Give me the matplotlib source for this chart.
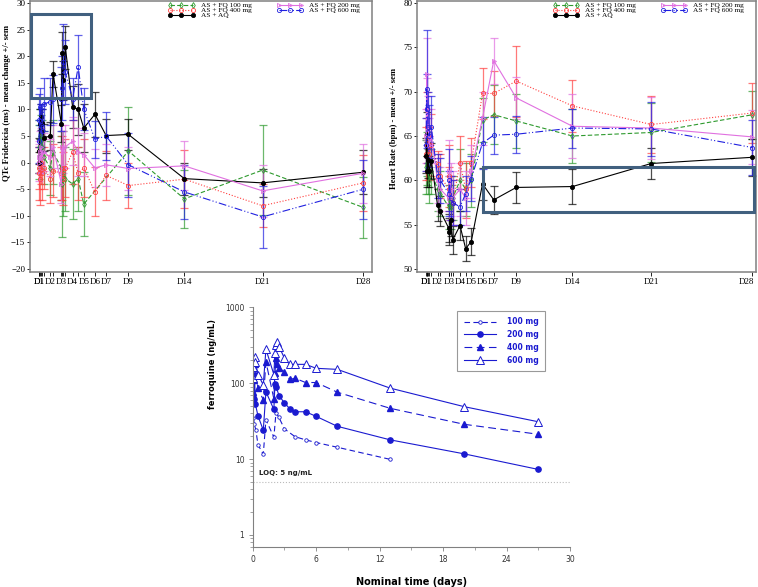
import numpy as np
import matplotlib
matplotlib.use("Agg")
import matplotlib.pyplot as plt
import matplotlib.transforms as mtransforms
from matplotlib.patches import Rectangle
from matplotlib.ticker import FixedLocator, NullFormatter

# ---- top panels: time points (days) and tick labels ----
t_days = [1.0, 1.03, 1.08, 1.17, 1.25, 1.45, 2.0, 2.25, 3.0, 3.06, 3.17, 3.35,
          4.0, 4.5, 5.0, 6.0, 7.0, 9.0, 14.0, 21.0, 30.0]
t_labels = ['D1', 'D1', '', '', '', '', 'D2', '', 'D3', '', '', '',
            'D4', '', 'D5', 'D6', 'D7', 'D9', 'D14', 'D21', 'D28']

nan = np.nan
# QTc Fridericia change (ms)
qtc_100 = [2.0, 3.0, 5.0, 4.0, 3.0, 1.0, -1.0, 2.0, -1.0, -4.0, -2.0, -3.0, -4.0, -3.0, -7.8, nan, nan, 2.2, -6.8, -1.4, -8.4]
qtc_100_sem = [5, 5, 5, 5, 5, 5, 5, 6, 6, 10, 8, 6, 6.5, 6, 6, nan, nan, 8.2, 5.4, 8.4, 5.8]
qtc_200 = [1.0, 0.0, 2.0, 3.0, 1.0, 2.0, 1.0, 3.0, -4.0, 3.0, 2.0, 3.0, 4.0, 2.0, 1.5, -1.0, -0.4, -1.1, -0.6, -5.3, -2.0]
qtc_200_sem = [3, 3.5, 4, 3.5, 3, 3.5, 3.5, 4, 3.5, 4, 4, 4, 4.5, 4.5, 4, 3.5, 4, 4, 4.6, 4.9, 5.6]
qtc_400 = [-1.0, -2.0, -3.0, 0.0, -2.0, -1.0, -3.0, -1.5, -2.0, -1.0, -3.0, -1.0, 2.0, -2.0, -1.0, -5.5, -2.4, -4.3, -3.1, -8.1, -3.8]
qtc_400_sem = [4, 5, 5, 4, 5, 4, 4.5, 5, 5, 6, 5, 5.5, 6, 5, 5.5, 4.6, 4.6, 4.3, 5.5, 4.0, 5.2]
qtc_600 = [4.0, 8.0, 10.5, 7.0, 6.0, 11.0, 11.5, 12.0, 12.0, 14.0, 19.0, 17.0, 12.0, 18.0, 10.1, 4.4, 5.0, -0.4, -5.5, -10.2, -5.0]
qtc_600_sem = [4, 5, 3.5, 4, 4, 5, 4.5, 4.5, 6, 6, 7, 6, 4, 6, 4, 3.5, 4.5, 6, 5, 5.8, 5.5]
qtc_aq = [0.0, 2.2, 7.3, 8.6, 7.5, 4.7, 5.0, 16.7, 7.3, 20.6, 15.5, 21.7, 10.5, 10.0, 6.5, 9.1, 5.1, 5.3, -3.0, -3.8, -1.8]
qtc_aq_sem = [2.0, 2.5, 2.8, 2.5, 2.5, 2.5, 2.7, 2.5, 3.5, 4.0, 3.7, 4.0, 4.0, 4.8, 4.5, 4.2, 3.2, 3.0, 3.0, 2.7, 4.1]

# heart rate (bpm)
hr_100 = [61.5, 63.0, 62.0, 61.0, 60.0, 61.0, 59.0, 58.5, 57.0, 58.0, 57.0, 58.0, 60.0, 59.0, 60.0, 66.8, 67.4, 66.7, 65.0, 65.4, 67.4]
hr_100_sem = [3.0, 2.5, 2.5, 2.5, 2.5, 2.5, 2.5, 2.5, 2.5, 2.5, 2.5, 2.5, 3.5, 3, 3, 2.5, 3.3, 3.0, 3.0, 3.3, 2.7]
hr_200 = [65.0, 72.0, 68.0, 66.0, 64.0, 65.0, 60.0, 59.0, 58.0, 61.0, 59.0, 58.0, 59.0, 58.0, 61.0, 67.0, 73.5, 69.3, 66.1, 65.9, 64.9]
hr_200_sem = [3, 4, 3.5, 3.5, 3, 3, 2.5, 2.5, 2.5, 3.5, 3, 3, 3, 3, 3, 3, 2.6, 2.4, 3.6, 3.5, 3.0]
hr_400 = [63.0, 66.0, 64.0, 65.0, 63.0, 64.0, 61.8, 60.5, 59.0, 60.5, 58.0, 57.5, 62.0, 59.0, 62.0, 69.8, 69.8, 71.2, 68.4, 66.3, 67.6]
hr_400_sem = [3, 4, 3, 3, 3, 3.5, 1.5, 2.5, 2.5, 3.5, 2.5, 2.5, 3, 3.2, 2.8, 2.9, 2.5, 4.0, 2.9, 3.2, 3.4]
hr_600 = [64.0, 70.3, 68.0, 66.0, 65.0, 66.0, 60.5, 60.0, 58.5, 60.0, 58.0, 57.5, 57.0, 58.5, 60.2, 64.2, 65.1, 65.2, 65.9, 65.8, 63.7]
hr_600_sem = [3, 6.7, 4, 4, 3.5, 3.5, 2.5, 2.5, 2.5, 3.5, 2.5, 2.5, 2.0, 2.0, 2.5, 2.9, 2.1, 2.1, 2.2, 3.0, 3.1]
hr_aq = [62.8, 65.2, 61.0, 62.3, 61.0, 62.2, 57.2, 56.5, 54.6, 54.2, 55.5, 53.3, 54.9, 52.3, 53.1, 59.6, 57.8, 59.2, 59.3, 61.9, 62.6]
hr_aq_sem = [2.0, 2.5, 1.8, 2.0, 1.8, 2.0, 1.8, 1.7, 1.6, 1.5, 1.8, 1.6, 1.6, 1.4, 1.5, 1.8, 1.6, 1.7, 1.95, 1.8, 2.1]

# ---- bottom panel: ferroquine concentrations ----
pk_100_t = [0.06, 0.15, 0.3, 0.5, 1.0, 1.25, 2.0, 2.2, 2.45, 3.0, 4.0, 5.0, 6.0, 8.0, 13.0]
pk_100_c = [35, 29, 24, 15.4, 11.6, 33, 19.4, 41, 36, 25, 19.7, 17.9, 16.5, 14.3, 9.9]
pk_200_t = [0.0, 0.05, 0.1, 0.17, 0.25, 0.5, 1.0, 1.25, 2.0, 2.1, 2.2, 2.5, 3.0, 3.5, 4.0, 5.0, 6.0, 8.0, 13.0, 20.0, 27.0]
pk_200_c = [57, 66, 62, 130, 53, 37, 24, 77, 45, 97, 90, 68, 55, 46, 42, 42, 36.5, 27, 17.9, 11.7, 7.3]
pk_400_t = [0.0, 0.08, 0.17, 0.5, 1.0, 1.25, 2.0, 2.1, 2.2, 2.25, 2.5, 3.0, 3.5, 4.0, 5.0, 6.0, 8.0, 13.0, 20.0, 27.0]
pk_400_c = [77, 110, 180, 86, 60, 192, 62, 135, 215, 180, 160, 140, 112, 116, 102, 102, 76, 46.6, 28.7, 21.2]
pk_600_t = [0.0, 0.05, 0.17, 0.25, 0.5, 1.0, 1.25, 2.0, 2.1, 2.2, 2.3, 2.5, 3.0, 3.5, 4.0, 5.0, 6.0, 8.0, 13.0, 20.0, 27.0]
pk_600_c = [116, 165, 224, 190, 130, 95, 280, 130, 248, 318, 352, 302, 213, 177, 177, 177, 157, 152, 86, 49, 31]
loq = 5

groups = ['AS + FQ 100 mg', 'AS + FQ 400 mg', 'AS + AQ', 'AS + FQ 200 mg', 'AS + FQ 600 mg']
styles = {
    'AS + FQ 100 mg': dict(color='#2e9a2e', ls=(0, (4, 2)), marker='d', mfc='none'),
    'AS + FQ 400 mg': dict(color='#ff4040', ls=':', marker='o', mfc='none'),
    'AS + AQ': dict(color='black', ls='-', marker='o', mfc='black'),
    'AS + FQ 200 mg': dict(color='#e070e0', ls='-', marker='>', mfc='none'),
    'AS + FQ 600 mg': dict(color='#2020e0', ls=(0, (7, 2, 1, 2, 1, 2)), marker='o', mfc='none'),
}
box_color = '#41607f'

plt.rcParams['font.family'] = ['Liberation Serif', 'DejaVu Serif']
fig = plt.figure(figsize=(7.58, 5.87), dpi=100)

ax1 = fig.add_axes([0.0396, 0.5366, 0.4512, 0.4617])
ax2 = fig.add_axes([0.5505, 0.5366, 0.4473, 0.4617])

t = np.array(t_days)


def draw_panel(ax, data, xlim):
    for g in groups:
        y, e = data[g]
        y = np.array(y, dtype=float)
        e = np.array(e, dtype=float)
        m = np.isfinite(y)
        st = styles[g]
        ax.errorbar(t[m], y[m], yerr=e[m], fmt='none', ecolor=st['color'],
                    elinewidth=0.9, capsize=2.6, capthick=0.9, alpha=0.7, zorder=2)
        ax.plot(t[m], y[m], color=st['color'], ls=st['ls'], lw=0.8,
                marker=st['marker'], ms=3, mfc=st['mfc'], mec=st['color'],
                mew=0.6, label=g, zorder=3)
    ax.set_xlim(*xlim)
    ax.set_xticks(t_days)
    ax.set_xticklabels(t_labels, fontsize=6.5)
    ax.tick_params(axis='x', length=3, width=0.6, pad=1.5)
    ax.tick_params(axis='y', length=2, width=0.6, labelsize=6.5, pad=1.5)
    for s in ax.spines.values():
        s.set_color('#808080')
        s.set_linewidth(1.1)
    ax.legend(loc='upper right', ncol=2, frameon=False, fontsize=5.3,
              numpoints=3, handlelength=3.6, labelspacing=-0.15,
              columnspacing=3.4, handletextpad=0.8, borderaxespad=0.1,
              bbox_to_anchor=(0.975, 1.01))


draw_panel(ax1, {
    'AS + FQ 100 mg': (qtc_100, qtc_100_sem),
    'AS + FQ 400 mg': (qtc_400, qtc_400_sem),
    'AS + AQ': (qtc_aq, qtc_aq_sem),
    'AS + FQ 200 mg': (qtc_200, qtc_200_sem),
    'AS + FQ 600 mg': (qtc_600, qtc_600_sem),
}, (0.19, 30.8))
ax1.set_ylim(-20.56, 30.4)
ax1.set_yticks(np.arange(-20, 31, 5))
ax1.set_ylabel('QTc Fridericia (ms) - mean change +/- sem', fontsize=6.2, fontweight='bold')
ax1.yaxis.set_label_coords(-0.057, 0.625)
ax1.add_patch(Rectangle((0.31, 12.1), 5.38, 15.8, fill=False, ec=box_color, lw=2.2, zorder=5))

draw_panel(ax2, {
    'AS + FQ 100 mg': (hr_100, hr_100_sem),
    'AS + FQ 400 mg': (hr_400, hr_400_sem),
    'AS + AQ': (hr_aq, hr_aq_sem),
    'AS + FQ 200 mg': (hr_200, hr_200_sem),
    'AS + FQ 600 mg': (hr_600, hr_600_sem),
}, (0.2, 30.35))
ax2.set_ylim(49.66, 80.23)
ax2.set_yticks(np.arange(50, 81, 5))
ax2.set_ylabel('Heart Rate (bpm) - mean +/- sem', fontsize=6.2, fontweight='bold')
ax2.yaxis.set_label_coords(-0.057, 0.53)
ax2.add_patch(Rectangle((6.05, 56.47), 24.1, 5.08, fill=False, ec=box_color, lw=2.2, zorder=5))
# nudge the last tick label so it stays inside the figure
last = ax2.get_xticklabels()[-1]
last.set_transform(last.get_transform() +
                   mtransforms.ScaledTranslation(-4 / 72, 0, fig.dpi_scale_trans))

# ---- bottom PK panel ----
blue = '#1a1ad0'
ax3 = fig.add_axes([0.3334, 0.0687, 0.4186, 0.4078])
sans = ['DejaVu Sans']
ax3.plot(pk_100_t, pk_100_c, color=blue, lw=0.8, ls=(0, (5, 3)), marker='o', ms=2.5,
         mfc='white', mec=blue, mew=0.6, label='100 mg')
ax3.plot(pk_200_t, pk_200_c, color=blue, lw=0.8, ls='-', marker='o', ms=3.8,
         mfc=blue, mec=blue, label='200 mg')
ax3.plot(pk_400_t, pk_400_c, color=blue, lw=0.8, ls=(0, (7, 4)), marker='^', ms=3.8,
         mfc=blue, mec=blue, label='400 mg')
ax3.plot(pk_600_t, pk_600_c, color=blue, lw=0.8, ls='-', marker='^', ms=6,
         mfc='white', mec=blue, mew=0.7, label='600 mg')
ax3.axhline(loq, color='#bbbbbb', lw=0.8, ls=':', zorder=1)
ax3.text(0.6, 6.1, 'LOQ: 5 ng/mL', fontsize=5, fontweight='bold', family=sans, color='#222222')
ax3.set_yscale('log')
ax3.set_ylim(0.7, 1000)
ax3.set_xlim(0, 30)
ax3.set_yticks([1, 10, 100, 1000])
ax3.set_yticklabels(['1', '10', '100', '1000'])
ax3.set_xticks(np.arange(0, 31, 6))
ax3.xaxis.set_minor_locator(FixedLocator(np.arange(3, 30, 6)))
for s in ['top', 'right']:
    ax3.spines[s].set_visible(False)
for s in ['left', 'bottom']:
    ax3.spines[s].set_color('#808080')
    ax3.spines[s].set_linewidth(0.8)
ax3.tick_params(axis='both', which='major', length=3, width=0.6, color='#808080',
                labelsize=5.5, labelcolor='#333333', pad=3)
ax3.tick_params(axis='both', which='minor', length=2, width=0.5, color='#808080')
ax3.yaxis.set_minor_formatter(NullFormatter())
for lab in ax3.get_xticklabels() + ax3.get_yticklabels():
    lab.set_family(sans)
ax3.set_xlabel('Nominal time (days)', fontsize=7, fontweight='bold', family=sans)
ax3.xaxis.set_label_coords(0.5, -0.125)
ax3.set_ylabel('ferroquine (ng/mL)', fontsize=6, fontweight='bold', family=sans)
ax3.yaxis.set_label_coords(-0.112, 0.763)
leg = ax3.legend(loc='upper right', bbox_to_anchor=(0.933, 1.0),
                 prop=dict(family=sans, weight='bold', size=5.5), handlelength=4.2,
                 labelspacing=0.5, borderpad=0.8, fancybox=False, handletextpad=1.5)
leg.get_frame().set_edgecolor('#808080')
leg.get_frame().set_linewidth(0.8)
for txt in leg.get_texts():
    txt.set_color(blue)

fig.savefig('out.png', dpi=100)
